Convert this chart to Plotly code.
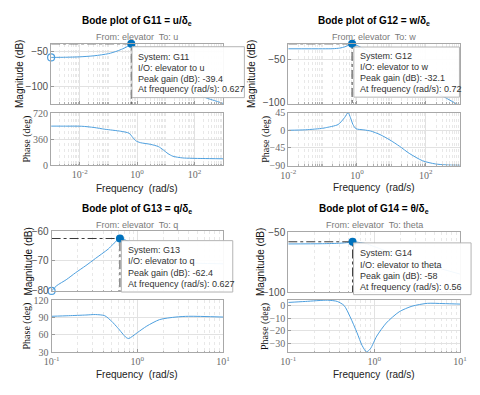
import plotly.graph_objects as go

W, H = 480, 395
SANS = "Liberation Sans, Arial, sans-serif"
SERIF = "Liberation Serif, Times New Roman, serif"
LINE = "#4d9fde"
DOT = "#0072BD"
DASH = "#3a3a3a"

# ---------------- data ----------------
# G11 = u / delta_e
g11_freq = [0.001, 0.00316, 0.01, 0.0316, 0.1, 0.2, 0.316, 0.447, 0.627, 0.794, 1.0, 2.0, 4.0,
            10.0, 31.6, 100.0, 251.0, 501.0, 1000.0]
g11_mag = [-58.8, -58.6, -58.0, -56.5, -53.5, -49.8, -46.5, -43.5, -39.4, -41.5, -45.0, -53.0, -62.0,
           -74.0, -92.0, -108.0, -116.5, -120.5, -124.5]
g11_pfreq = [0.001, 0.00316, 0.0117, 0.0316, 0.0741, 0.269, 0.525, 0.676, 0.891, 1.288, 2.88, 5.5,
             8.13, 12.0, 17.8, 38.9, 186.0, 1000.0]
g11_phase = [541, 540.5, 539, 522, 498, 470, 443, 394, 340, 313, 290, 259,
             214, 161, 125, 102, 94, 90]

# G12 = w / delta_e
g12_freq = [0.01, 0.1, 0.2, 0.316, 0.447, 0.562, 0.72, 1.0, 2.0, 4.0, 10.0, 31.6, 100.0, 398.0, 871.0, 1000.0]
g12_mag = [-37.8, -37.8, -37.7, -37.0, -35.5, -33.8, -32.1, -34.0, -40.0, -47.0, -58.0, -70.0, -81.5,
           -94.5, -101.9, -103.0]
g12_pfreq = [0.01, 0.0316, 0.1, 0.12, 0.282, 0.437, 0.55, 0.646, 0.759, 0.933, 1.585, 2.51, 4.68,
             9.12, 17.4, 33.1, 81.3, 190.5, 398.0, 1000.0]
g12_phase = [0, 1.2, 5, 6.4, 14.7, 32.7, 45, 32, 15, 4, 1, -2, -11,
             -25, -41, -59, -78, -86, -88.5, -89.5]

# G13 = q / delta_e
g13_freq = [0.1, 0.115, 0.148, 0.191, 0.251, 0.324, 0.457, 0.627, 0.794, 1.0, 1.585, 3.16, 10.0]
g13_mag = [-80.2, -78.4, -76.4, -74.0, -71.6, -69.2, -66.0, -62.4, -63.5, -66.0, -69.0, -70.5, -71.0]
g13_pfreq = [0.1, 0.158, 0.251, 0.324, 0.417, 0.501, 0.589, 0.741, 0.794, 1.0, 1.288, 1.82, 2.82,
             3.98, 10.0]
g13_phase = [92, 93, 94.2, 95, 93, 83.4, 72.2, 55.3, 53.6, 63.7, 75, 86.3, 90.7, 92, 90.7]

# G14 = theta / delta_e
g14_freq = [0.1, 0.251, 0.398, 0.501, 0.56, 0.794, 1.0, 2.0, 4.0, 10.0]
g14_mag = [-59.8, -59.6, -59.2, -58.6, -58.0, -59.5, -62.0, -70.0, -77.0, -85.0]
g14_pfreq = [0.1, 0.158, 0.288, 0.372, 0.447, 0.525, 0.631, 0.724, 0.813, 0.902, 1.072, 1.38, 1.95,
             2.75, 4.17, 6.31, 10.0]
g14_phase = [2.5, 3.3, 4.3, 3.3, 0, -9, -21.7, -32, -37, -34.6, -24.4, -14, -5,
             -0.5, 1.8, 1.6, 1.2]

peak_freq = [0.627, 0.72, 0.627, 0.56]
peak_gain = [-39.4, -32.1, -62.4, -58.0]
system_names = ["G11", "G12", "G13", "G14"]
output_names = ["u", "w", "q", "theta"]
title_outputs = ["u", "w", "q", "θ"]
show_start_tip = [True, False, True, False]

mag_ticks = [[-100, -50], [-100, -50], [-80, -70, -60], [-100, -50]]
phase_ticks = [[0, 360, 720], [-90, -45, 0, 45], [30, 60, 90, 120], [-30, -20, -10, 0]]

# ---------------- layout geometry (pixels) ----------------
panels = [
    dict(freq=g11_freq, mag=g11_mag, pfreq=g11_pfreq, ph=g11_phase,
         x=(44.5, 222), mag_y=(39, 101), ph_y=(110.5, 164.3),
         xr=(-3, 3), mag_r=(-125.3, -39.4), ph_r=(0, 720),
         title_y=15, sub_y=32, maglab_x=12.5, phlab_x=20, freq_y=188,
         box=(128, 244, 42, 94.5), lines_y=(52.7, 63.7, 74.8, 86)),
    dict(freq=g12_freq, mag=g12_mag, pfreq=g12_pfreq, ph=g12_phase,
         x=(289.3, 466.7), mag_y=(39, 101), ph_y=(110, 164.5),
         xr=(-2, 3), mag_r=(-101.1, -32.1), ph_r=(-90, 45),
         title_y=15, sub_y=32, maglab_x=252, phlab_x=266, freq_y=187,
         box=(357, 466, 42.3, 94), lines_y=(51.7, 62.7, 74.3, 86)),
    dict(freq=g13_freq, mag=g13_mag, pfreq=g13_pfreq, ph=g13_phase,
         x=(45, 222), mag_y=(232.5, 294), ph_y=(303.3, 357),
         xr=(-1, 1), mag_r=(-80.25, -60), ph_r=(30, 120),
         title_y=209, sub_y=226, maglab_x=21, phlab_x=20, freq_y=380,
         box=(117, 232, 242, 295), lines_y=(251.5, 263, 275, 286.7)),
    dict(freq=g14_freq, mag=g14_mag, pfreq=g14_pfreq, ph=g14_phase,
         x=(289.3, 466.7), mag_y=(233.3, 295), ph_y=(303.3, 357.3),
         xr=(-1, 1), mag_r=(-100, -50), ph_r=(-37.5, 4.4),
         title_y=209, sub_y=226, maglab_x=260, phlab_x=266, freq_y=380,
         box=(356.7, 478, 244.3, 297.7), lines_y=(254.3, 266.7, 278.3, 289.3)),
]


def fx(px):
    return px / W


def fy(py):
    return 1 - py / H


def sup(e):
    return "10<sup>%d</sup>" % e


fig = go.Figure()
layout = dict(width=W, height=H, margin=dict(l=0, r=0, t=0, b=0),
              paper_bgcolor="white", plot_bgcolor="white", showlegend=False)
annotations = []
shapes = []

for i, p in enumerate(panels):
    mi, pi = 2 * i + 1, 2 * i + 2
    mx, my = ("x%d" % mi if mi > 1 else "x"), ("y%d" % mi if mi > 1 else "y")
    px_, py_ = "x%d" % pi, "y%d" % pi
    lo, hi = p["xr"]
    wide = hi - lo > 2
    major = [10.0 ** e for e in range(lo, hi + 1) if (not wide) or e % 2 == 0]
    major_text = [sup(e) for e in range(lo, hi + 1) if (not wide) or e % 2 == 0]
    minor = []
    for e in range(lo, hi):
        if wide and e % 2 != 0:
            minor.append(10.0 ** e)
        for d in range(2, 10):
            minor.append(d * 10.0 ** e)
    if wide and hi % 2 != 0:
        minor.append(10.0 ** hi)

    def xax(domain, labels, anchor):
        return dict(type="log", range=[lo, hi], domain=domain, anchor=anchor,
                    tickvals=major, ticktext=major_text, showticklabels=labels,
                    tickfont=dict(family=SERIF, size=10, color="#6a6a6a"),
                    ticks="inside", ticklen=3, tickcolor="#9a9a9a",
                    showgrid=True, gridcolor="#e2e2e2", gridwidth=1,
                    minor=dict(tickvals=minor, showgrid=True, gridcolor="#e8e8e8",
                               griddash="dot", ticks="inside", ticklen=1.5, tickcolor="#b0b0b0"),
                    showline=True, mirror=True, linecolor="#a8a8a8", linewidth=1,
                    zeroline=False)

    xd = [fx(p["x"][0]), fx(p["x"][1])]
    layout["xaxis" + (str(mi) if mi > 1 else "")] = xax(xd, False, my)
    layout["xaxis" + str(pi)] = xax(xd, True, py_)
    layout["yaxis" + (str(mi) if mi > 1 else "")] = dict(
        range=list(p["mag_r"]), domain=[fy(p["mag_y"][1]), fy(p["mag_y"][0])], anchor=mx,
        tickvals=mag_ticks[i], tickfont=dict(family=SANS, size=10, color="#505050"),
        ticks="inside", ticklen=3, tickcolor="#9a9a9a",
        showgrid=True, gridcolor="#e2e2e2", showline=True, mirror=True,
        linecolor="#a8a8a8", linewidth=1, zeroline=False)
    layout["yaxis" + str(pi)] = dict(
        range=list(p["ph_r"]), domain=[fy(p["ph_y"][1]), fy(p["ph_y"][0])], anchor=px_,
        tickvals=phase_ticks[i], tickfont=dict(family=SERIF, size=10, color="#6a6a6a"),
        ticks="inside", ticklen=3, tickcolor="#9a9a9a",
        showgrid=True, gridcolor="#e2e2e2", showline=True, mirror=True,
        linecolor="#a8a8a8", linewidth=1, zeroline=False)

    # curves
    fig.add_trace(go.Scatter(x=p["freq"], y=p["mag"], mode="lines", xaxis=mx, yaxis=my,
                             line=dict(color=LINE, width=1, shape="spline", smoothing=0.7),
                             hoverinfo="skip"))
    fig.add_trace(go.Scatter(x=p["pfreq"], y=p["ph"], mode="lines", xaxis=px_, yaxis=py_,
                             line=dict(color=LINE, width=1, shape="spline", smoothing=0.7),
                             hoverinfo="skip"))
    # peak cross-hair (dash-dot)
    fig.add_trace(go.Scatter(x=[10.0 ** lo, peak_freq[i], peak_freq[i]],
                             y=[peak_gain[i], peak_gain[i], p["mag_r"][0]],
                             mode="lines", xaxis=mx, yaxis=my, cliponaxis=False,
                             line=dict(color=DASH, width=1, dash="dashdot"), hoverinfo="skip"))
    if show_start_tip[i]:
        fig.add_trace(go.Scatter(x=[p["freq"][0]], y=[p["mag"][0]], mode="markers",
                                 xaxis=mx, yaxis=my, cliponaxis=False,
                                 marker=dict(symbol="circle-open", size=7, color=LINE,
                                             line=dict(width=1.2, color=LINE)),
                                 hoverinfo="skip"))
    fig.add_trace(go.Scatter(x=[peak_freq[i]], y=[peak_gain[i]], mode="markers",
                             xaxis=mx, yaxis=my, cliponaxis=False,
                             marker=dict(size=8, color=DOT), hoverinfo="skip"))

    cx = (p["x"][0] + p["x"][1]) / 2
    # titles
    annotations.append(dict(text="<b>Bode plot of %s = %s/δ<sub>e</sub></b>" % (system_names[i], title_outputs[i]),
                            x=fx(cx), y=fy(p["title_y"]), xref="paper", yref="paper",
                            xanchor="center", yanchor="middle", showarrow=False,
                            font=dict(family=SANS, size=10, color="#000000")))
    annotations.append(dict(text="From: elevator\u00a0 To: %s" % output_names[i],
                            x=fx(cx), y=fy(p["sub_y"]), xref="paper", yref="paper",
                            xanchor="center", yanchor="middle", showarrow=False,
                            font=dict(family=SANS, size=9, color="#7a7a7a")))
    annotations.append(dict(text="Magnitude (dB)", textangle=-90,
                            x=fx(p["maglab_x"]), y=fy((p["mag_y"][0] + p["mag_y"][1]) / 2),
                            xref="paper", yref="paper", xanchor="center", yanchor="middle",
                            showarrow=False, font=dict(family=SANS, size=10, color="#111111")))
    annotations.append(dict(text="Phase (deg)", textangle=-90,
                            x=fx(p["phlab_x"]), y=fy((p["ph_y"][0] + p["ph_y"][1]) / 2),
                            xref="paper", yref="paper", xanchor="center", yanchor="middle",
                            showarrow=False, font=dict(family=SERIF, size=10, color="#111111")))
    annotations.append(dict(text="Frequency\u00a0 (rad/s)", x=fx(cx), y=fy(p["freq_y"]),
                            xref="paper", yref="paper", xanchor="center", yanchor="middle",
                            showarrow=False, font=dict(family=SANS, size=10, color="#222222")))

    # data tip box
    bx0, bx1, by0, by1 = p["box"]
    shapes.append(dict(type="rect", xref="paper", yref="paper", layer="above",
                       x0=fx(bx0), x1=fx(bx1), y0=fy(by1), y1=fy(by0),
                       fillcolor="rgba(255,255,255,0.93)", line=dict(color="#b4b4b4", width=1)))
    tip_lines = ["System: %s" % system_names[i],
                 "I/O: elevator to %s" % output_names[i],
                 "Peak gain (dB): %s" % ("%g" % peak_gain[i]),
                 "At frequency (rad/s): %s" % ("%g" % peak_freq[i])]
    for t, ly in zip(tip_lines, p["lines_y"]):
        annotations.append(dict(text=t, x=fx(bx0 + 4.5), y=fy(ly), xref="paper", yref="paper",
                                xanchor="left", yanchor="middle", showarrow=False,
                                font=dict(family=SANS, size=9, color="#333333")))

layout["annotations"] = annotations
layout["shapes"] = shapes
fig.update_layout(**layout)
fig.write_html("out.html",
               config={"displayModeBar": False, "staticPlot": True},
               post_script="document.body.style.margin='0';document.body.style.overflow='hidden';")
